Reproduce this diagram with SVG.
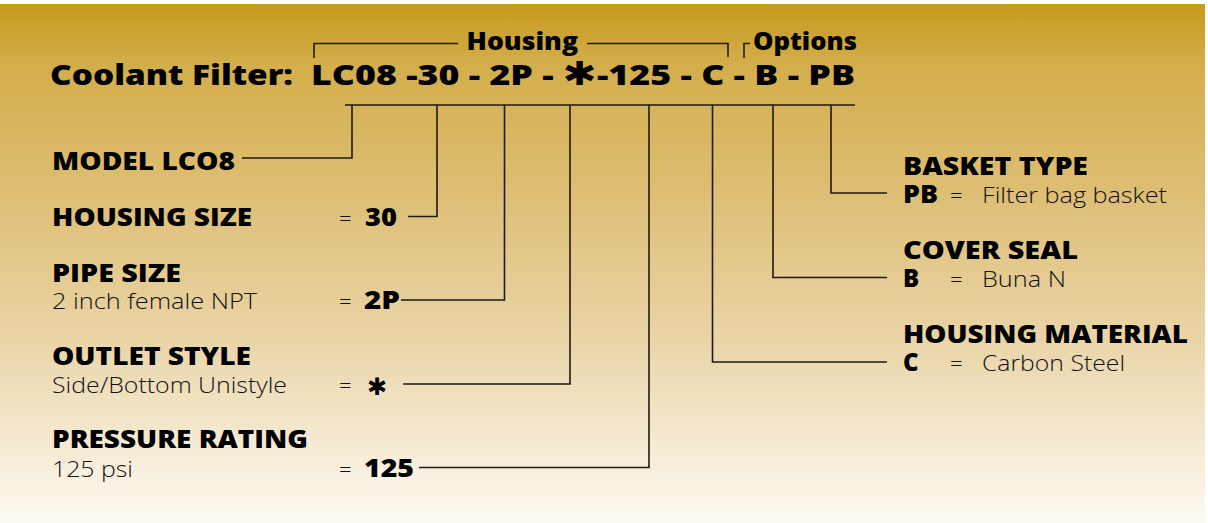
<svg xmlns="http://www.w3.org/2000/svg" width="1208" height="523" viewBox="0 0 1208 523">
  <defs>
    <linearGradient id="bg" x1="0" y1="0" x2="0" y2="1">
      <stop offset="0" stop-color="#C69B1C"/>
      <stop offset="0.12" stop-color="#D3AE4B"/>
      <stop offset="0.35" stop-color="#DDBD72"/>
      <stop offset="0.65" stop-color="#EAD5A8"/>
      <stop offset="1" stop-color="#FDFAF3"/>
    </linearGradient>
  </defs>
  <style>
    .h { font-family: "Open Sans", "DejaVu Sans", sans-serif; font-weight: 800; font-size: 24px; fill: #000; }
    .t { font-family: "Open Sans", "DejaVu Sans", sans-serif; font-weight: 800; font-size: 29px; fill: #000; }
    .b { font-family: "Open Sans", "Noto Sans", sans-serif; font-weight: 300; font-size: 22px; fill: #111; }
    .v { font-family: "Open Sans", "DejaVu Sans", sans-serif; font-weight: 800; font-size: 24px; fill: #000; }
    .ast { font-family: "DejaVu Sans", sans-serif; font-weight: bold; }
    .ln { fill: none; stroke: #1e1b12; stroke-width: 1.6; }
  </style>
  <rect x="0" y="4" width="1205" height="519" fill="url(#bg)"/>

  <g id="title">
    <text class="t" x="50" y="85" textLength="243" lengthAdjust="spacingAndGlyphs">Coolant Filter:</text>
    <text class="t" x="311" y="85" textLength="544" lengthAdjust="spacingAndGlyphs">LC08 -30 - 2P - <tspan class="ast" font-size="33">✱</tspan>-125 - C - B - PB</text>
    <text class="h" x="466.5" y="50" textLength="111.5" lengthAdjust="spacingAndGlyphs">Housing</text>
    <text class="h" x="753" y="50" textLength="104" lengthAdjust="spacingAndGlyphs">Options</text>
  </g>

  <g id="model">
    <text class="h" x="52" y="170" textLength="183" lengthAdjust="spacingAndGlyphs">MODEL LCO8</text>
  </g>
  <g id="housing-size">
    <text class="h" x="52" y="226" textLength="200" lengthAdjust="spacingAndGlyphs">HOUSING SIZE</text>
    <text class="b" x="339" y="226">=</text>
    <text class="v" x="365" y="226" textLength="32" lengthAdjust="spacingAndGlyphs">30</text>
  </g>
  <g id="pipe-size">
    <text class="h" x="52" y="282" textLength="129" lengthAdjust="spacingAndGlyphs">PIPE SIZE</text>
    <text class="b" x="52" y="309" textLength="205" lengthAdjust="spacingAndGlyphs">2 inch female NPT</text>
    <text class="b" x="339" y="309">=</text>
    <text class="v" x="364" y="309" textLength="36" lengthAdjust="spacingAndGlyphs">2P</text>
  </g>
  <g id="outlet-style">
    <text class="h" x="52" y="365" textLength="199" lengthAdjust="spacingAndGlyphs">OUTLET STYLE</text>
    <text class="b" x="52" y="393" textLength="235" lengthAdjust="spacingAndGlyphs">Side/Bottom Unistyle</text>
    <text class="b" x="339" y="393">=</text>
    <text class="v ast" x="367" y="395" font-size="34">✱</text>
  </g>
  <g id="pressure-rating">
    <text class="h" x="52" y="448" textLength="256" lengthAdjust="spacingAndGlyphs">PRESSURE RATING</text>
    <text class="b" x="52" y="477" textLength="81" lengthAdjust="spacingAndGlyphs">125 psi</text>
    <text class="b" x="339" y="477">=</text>
    <text class="v" x="364" y="477" textLength="50" lengthAdjust="spacingAndGlyphs">125</text>
  </g>
  <g id="basket-type">
    <text class="h" x="903" y="175" textLength="185" lengthAdjust="spacingAndGlyphs">BASKET TYPE</text>
    <text class="v" x="903" y="203" textLength="35" lengthAdjust="spacingAndGlyphs">PB</text>
    <text class="b" x="950" y="203">=</text>
    <text class="b" x="982" y="203" textLength="185" lengthAdjust="spacingAndGlyphs">Filter bag basket</text>
  </g>
  <g id="cover-seal">
    <text class="h" x="903" y="259" textLength="175" lengthAdjust="spacingAndGlyphs">COVER SEAL</text>
    <text class="v" x="903" y="287">B</text>
    <text class="b" x="950" y="287">=</text>
    <text class="b" x="982" y="287" textLength="84" lengthAdjust="spacingAndGlyphs">Buna N</text>
  </g>
  <g id="housing-material">
    <text class="h" x="903" y="343" textLength="285" lengthAdjust="spacingAndGlyphs">HOUSING MATERIAL</text>
    <text class="v" x="903" y="371">C</text>
    <text class="b" x="950" y="371">=</text>
    <text class="b" x="982" y="371" textLength="143" lengthAdjust="spacingAndGlyphs">Carbon Steel</text>
  </g>

  <g id="connectors">
    <polyline class="ln" points="314,58 314,43.5 458,43.5"/>
    <polyline class="ln" points="587,43.5 728,43.5 728,57"/>
    <polyline class="ln" points="744,58 744,43.5 750,43.5"/>
    <line class="ln" x1="345" y1="105" x2="855" y2="105"/>
    <polyline class="ln" points="242,158 352,158 352,105"/>
    <polyline class="ln" points="408,216.5 437,216.5 437,105"/>
    <polyline class="ln" points="401,300 504.5,300 504.5,105"/>
    <polyline class="ln" points="403,384 570,384 570,105"/>
    <polyline class="ln" points="419,467.5 649,467.5 649,105"/>
    <polyline class="ln" points="887,362 712.5,362 712.5,105"/>
    <polyline class="ln" points="887,277.5 773,277.5 773,105"/>
    <polyline class="ln" points="887,193 831,193 831,105"/>
  </g>
</svg>
